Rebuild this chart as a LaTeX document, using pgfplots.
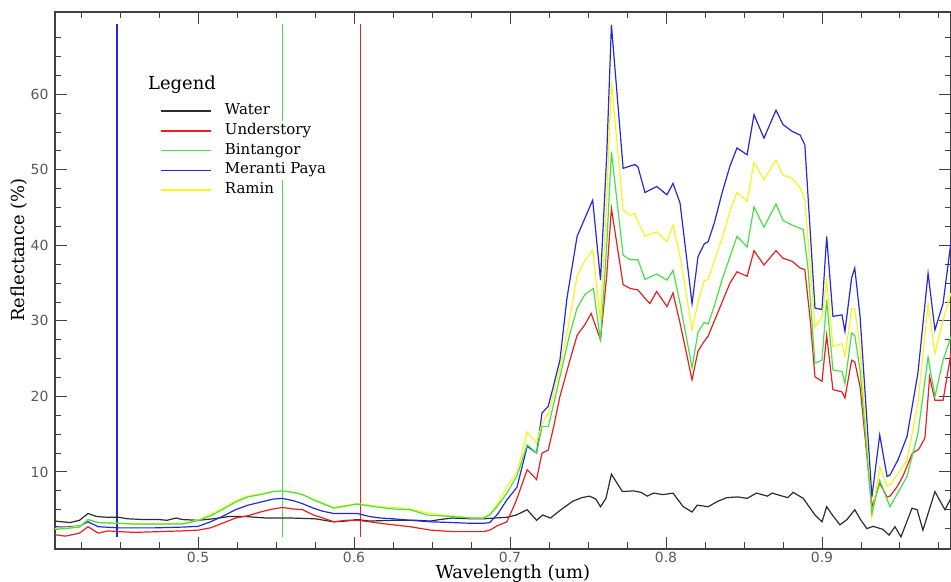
\documentclass[border=0pt]{standalone}
\usepackage{fontspec}
\setmainfont{DejaVu Serif}
\newfontfamily\tickfont{DejaVu Sans}
\usepackage{pgfplots}
\pgfplotsset{compat=1.18}
\definecolor{cwater}{RGB}{45,45,45}
\definecolor{cred}{RGB}{232,32,32}
\definecolor{cgreen}{RGB}{70,225,70}
\definecolor{cblue}{RGB}{40,40,215}
\definecolor{cyellow}{RGB}{248,244,30}
\begin{document}
\begin{tikzpicture}
\begin{axis}[
  scale only axis, width=896bp, height=537bp,
  xmin=0.4083, xmax=0.9827, ymin=-0.2, ymax=70.9,
  xtick={0.5,0.6,0.7,0.8,0.9}, xticklabels={0.5,0.6,0.7,0.8,0.9},
  minor xtick={0.425,0.45,0.475,0.525,0.55,0.575,0.625,0.65,0.675,0.725,0.75,0.775,0.825,0.85,0.875,0.925,0.95,0.975},
  ytick={10,20,30,40,50,60},
  minor ytick={2.5,5,7.5,12.5,15,17.5,22.5,25,27.5,32.5,35,37.5,42.5,45,47.5,52.5,55,57.5,62.5,65,67.5},
  tick pos=both, tick align=inside, xticklabel pos=lower, yticklabel pos=left,
  major tick length=12bp, minor tick length=6.5bp,
  axis line style={draw=black!75, line width=1.1bp},
  every tick/.style={black!75, line width=1bp},
  /pgf/number format/assume math mode=true,
  tick label style={font=\tickfont\fontsize{14}{16}\selectfont, text=black!65},
  yticklabel style={xshift=-3bp},
  xlabel={Wavelength (um)}, ylabel={Reflectance (\%)},
  label style={font=\fontsize{18}{20}\selectfont},
  xlabel style={at={(axis description cs:0.511,0)}, anchor=base, yshift=-29bp},
  ylabel style={at={(axis description cs:-0.0335,0.557)}, anchor=base},
  legend style={draw=none, fill=none, at={(axis description cs:0.117,0.834)}, anchor=north west,
    inner sep=0pt, row sep=0pt, column sep=12bp,
    nodes={fill=white, inner xsep=1.5bp, inner ysep=2.35bp, text height=11bp, text depth=4bp, font=\fontsize{15}{17}\selectfont}},
  legend cell align=left,
  legend image code/.code={\draw[#1] (0bp,0bp) -- (50bp,0bp);},
]
% band markers
\addplot[color=cblue, line width=1.4bp, forget plot] coordinates {(0.448,1.4) (0.448,69.3)};
\addplot[color=cgreen, line width=1.4bp, forget plot] coordinates {(0.554,1.4) (0.554,69.3)};
\addplot[color=cred, line width=1.4bp, forget plot] coordinates {(0.604,1.4) (0.604,69.3)};
% Water
\addplot[color=cwater, line width=1.2bp, forget plot] coordinates {
(0.408,3.5) (0.418,3.3) (0.424,3.6) (0.4295,4.5) (0.435,4.1) (0.442,4.0) (0.449,4.0) (0.455,3.8)
(0.465,3.7) (0.475,3.7) (0.48,3.6) (0.486,3.9) (0.49,3.7) (0.5,3.6) (0.51,3.8) (0.52,4.1) (0.53,4.1)
(0.544,3.9) (0.56,3.9) (0.575,3.8) (0.587,3.4) (0.595,3.5) (0.602,3.7) (0.61,3.5) (0.625,3.6)
(0.64,3.6) (0.649,3.5) (0.655,3.7) (0.663,3.9) (0.675,3.8) (0.683,3.8) (0.69,3.9) (0.698,4.0)
(0.704,4.3) (0.711,5.0) (0.717,3.6) (0.721,4.3) (0.726,3.9) (0.732,4.9) (0.74,6.1) (0.746,6.6)
(0.751,6.8) (0.755,6.4) (0.758,5.4) (0.7615,6.5) (0.765,9.7) (0.772,7.4) (0.779,7.5) (0.784,7.3)
(0.788,6.8) (0.792,7.2) (0.798,7.0) (0.8045,7.2) (0.811,5.4) (0.8167,4.7) (0.82,5.6) (0.827,5.4)
(0.833,6.1) (0.839,6.6) (0.846,6.7) (0.852,6.5) (0.858,7.2) (0.865,6.8) (0.868,7.2) (0.873,6.9)
(0.878,6.6) (0.8815,7.3) (0.888,6.5) (0.8955,4.3) (0.900,3.4) (0.903,5.4) (0.907,4.2) (0.9115,3.0)
(0.916,3.7) (0.921,5.0) (0.925,3.6) (0.9288,2.5) (0.9327,2.8) (0.936,2.6) (0.939,2.4) (0.943,1.65)
(0.9468,2.75) (0.9506,1.4) (0.9577,5.2) (0.961,5.0) (0.9647,2.3) (0.9724,7.4) (0.9788,5.0) (0.9827,6.5)};
% Understory
\addplot[color=cred, line width=1.2bp, forget plot] coordinates {
(0.408,1.7) (0.415,1.5) (0.424,1.9) (0.4295,2.75) (0.436,1.9) (0.442,2.2) (0.449,2.1) (0.46,2.0)
(0.475,2.1) (0.49,2.2) (0.5,2.3) (0.508,2.6) (0.5155,3.2) (0.524,3.9) (0.532,4.2) (0.54,4.7)
(0.548,5.1) (0.554,5.3) (0.561,5.1) (0.567,5.0) (0.574,4.3) (0.58,3.9) (0.587,3.4) (0.595,3.6)
(0.602,3.6) (0.61,3.4) (0.617,3.2) (0.625,3.0) (0.636,2.75) (0.649,2.3) (0.663,2.1) (0.675,2.1)
(0.683,2.1) (0.687,2.3) (0.692,2.9) (0.698,3.4) (0.704,6.2) (0.711,10.3) (0.717,9.0) (0.7205,12.5)
(0.7245,12.9) (0.728,16.0) (0.732,20.0) (0.738,24.5) (0.743,28.1) (0.748,29.5) (0.752,31.0)
(0.758,27.5) (0.762,36) (0.765,44.9) (0.7725,34.8) (0.777,34.3) (0.782,34.1) (0.7865,33.0)
(0.7897,32.3) (0.794,33.9) (0.8006,31.9) (0.8045,33.7) (0.809,29.7) (0.8167,22.2) (0.8205,26.0)
(0.8245,27.3) (0.827,28.0) (0.831,30.0) (0.836,32.5) (0.841,35.0) (0.8455,36.5) (0.852,35.9)
(0.8564,39.3) (0.8628,37.4) (0.8705,39.3) (0.875,38.3) (0.8808,37.9) (0.886,37.0) (0.889,36.8)
(0.8925,30) (0.8955,22.6) (0.900,22.0) (0.903,28.1) (0.907,20.9) (0.9128,20.6) (0.9147,19.8)
(0.919,24.8) (0.921,24.6) (0.9244,21.3) (0.932,5.4) (0.937,8.5) (0.9417,6.7) (0.9436,6.8)
(0.948,8.0) (0.952,9.5) (0.958,12.5) (0.962,13.0) (0.966,14.5) (0.969,22.6) (0.9724,19.5)
(0.9776,19.5) (0.9827,25.7)};
% Meranti Paya
\addplot[color=cblue, line width=1.2bp, forget plot] coordinates {
(0.408,2.75) (0.415,2.7) (0.424,2.85) (0.4295,3.4) (0.436,2.75) (0.449,2.6) (0.46,2.6) (0.4725,2.6)
(0.49,2.7) (0.5,2.8) (0.508,3.4) (0.5155,4.1) (0.524,5.0) (0.532,5.6) (0.54,6.0) (0.548,6.4)
(0.554,6.5) (0.561,6.2) (0.567,5.8) (0.574,5.2) (0.58,4.8) (0.587,4.5) (0.595,4.5) (0.602,4.5)
(0.61,4.1) (0.617,3.9) (0.625,3.8) (0.636,3.6) (0.649,3.4) (0.663,3.3) (0.675,3.2) (0.683,3.2)
(0.687,3.3) (0.692,4.4) (0.698,6.3) (0.7045,8.0) (0.711,13.4) (0.717,12.5) (0.7205,17.8)
(0.7245,18.7) (0.728,21.5) (0.732,24.8) (0.7365,33) (0.743,41.2) (0.748,43.6) (0.753,46.0)
(0.758,35.4) (0.762,52) (0.765,69.2) (0.7725,50.2) (0.777,50.5) (0.78,50.7) (0.782,50.4)
(0.7865,47.0) (0.794,47.8) (0.8006,46.7) (0.8045,48.2) (0.809,45.6) (0.8167,32.3) (0.8205,38.5)
(0.8245,40.2) (0.827,40.5) (0.831,43.0) (0.836,47.0) (0.841,50.5) (0.8455,52.9) (0.852,52.0)
(0.8564,57.3) (0.8628,54.2) (0.8705,57.9) (0.875,56.0) (0.8808,55.1) (0.886,54.6) (0.889,53.3)
(0.8955,31.7) (0.900,31.5) (0.903,41.2) (0.907,30.6) (0.9128,30.8) (0.9147,28.6) (0.919,35.7)
(0.921,37.0) (0.9244,30.6) (0.932,6.7) (0.937,14.9) (0.9417,9.4) (0.9436,9.6) (0.9487,11.6)
(0.9545,14.7) (0.9615,23.1) (0.968,36.3) (0.9724,28.8) (0.9776,32.3) (0.9827,40.5)};
% Ramin
\addplot[color=cyellow, line width=1.2bp, forget plot] coordinates {
(0.408,2.5) (0.415,2.6) (0.424,2.8) (0.4295,3.7) (0.436,3.3) (0.449,3.2) (0.46,3.1) (0.4725,3.1)
(0.49,3.2) (0.5,3.6) (0.508,4.4) (0.5155,5.2) (0.524,6.2) (0.532,6.8) (0.54,7.1) (0.548,7.4)
(0.554,7.5) (0.561,7.3) (0.567,7.0) (0.574,6.4) (0.58,5.9) (0.587,5.3) (0.595,5.6) (0.602,5.8)
(0.61,5.6) (0.617,5.4) (0.625,5.3) (0.631,5.2) (0.636,5.1) (0.647,4.6) (0.655,4.3) (0.663,4.2)
(0.675,3.9) (0.683,3.9) (0.687,4.4) (0.692,5.8) (0.698,8.1) (0.7045,10) (0.711,15.3) (0.717,13.8)
(0.7205,16.4) (0.7245,17.8) (0.728,20.5) (0.732,23.7) (0.738,30) (0.743,35.9) (0.748,38)
(0.753,39.4) (0.758,30) (0.762,46) (0.765,61.7) (0.7725,44.7) (0.777,44.0) (0.78,44.2)
(0.782,43.2) (0.7865,41.2) (0.794,41.8) (0.8006,40.5) (0.8045,42.7) (0.809,38.5) (0.8167,28.8)
(0.8205,32.5) (0.8245,35.3) (0.827,35.5) (0.831,38.0) (0.836,41.0) (0.841,44.5) (0.8455,47.0)
(0.852,45.8) (0.8564,51.0) (0.8628,48.7) (0.8705,51.3) (0.875,49.3) (0.8808,48.9) (0.886,47.6)
(0.889,46.0) (0.8955,29.2) (0.900,30.5) (0.903,35.4) (0.907,26.6) (0.9128,27.0) (0.9147,25.3)
(0.919,31.7) (0.921,31.5) (0.9244,26.6) (0.932,4.1) (0.937,10.7) (0.9417,8.1) (0.9436,8.3)
(0.9545,11.5) (0.9615,19.1) (0.968,32.3) (0.9724,25.7) (0.9776,30.1) (0.9827,33.7)};
% Bintangor
\addplot[color=cgreen, line width=1.2bp, forget plot] coordinates {
(0.408,2.4) (0.415,2.5) (0.424,2.7) (0.4295,3.7) (0.436,3.3) (0.449,3.2) (0.46,3.1) (0.4725,3.1)
(0.49,3.1) (0.5,3.55) (0.508,4.2) (0.5155,5.0) (0.524,6.0) (0.532,6.7) (0.54,7.0) (0.548,7.4)
(0.554,7.5) (0.561,7.3) (0.567,7.0) (0.574,6.3) (0.58,5.8) (0.587,5.2) (0.595,5.5) (0.602,5.75)
(0.61,5.5) (0.617,5.3) (0.625,5.1) (0.636,5.0) (0.647,4.3) (0.655,4.2) (0.663,4.1) (0.675,3.9)
(0.683,3.9) (0.687,4.3) (0.692,5.5) (0.698,7.2) (0.7045,9.5) (0.711,13.6) (0.717,12.5)
(0.7205,16.0) (0.7245,16.0) (0.728,19) (0.732,22.6) (0.738,28) (0.743,31.7) (0.748,33.5)
(0.7535,34.3) (0.758,27.3) (0.762,40) (0.765,52.4) (0.7725,38.7) (0.777,38.1) (0.782,38.1)
(0.7865,35.5) (0.794,36.2) (0.8006,35.4) (0.8045,36.7) (0.809,32.3) (0.8167,23.8) (0.8205,28.5)
(0.8245,29.8) (0.827,29.6) (0.831,32.0) (0.836,35.5) (0.841,38.5) (0.8455,41.2) (0.852,39.8)
(0.8564,45.1) (0.8628,42.4) (0.8705,45.5) (0.875,43.3) (0.8808,42.7) (0.888,42.1) (0.891,37.0)
(0.8955,24.4) (0.900,24.8) (0.903,32.8) (0.907,23.5) (0.9128,23.3) (0.9147,21.7) (0.919,28.4)
(0.921,28.1) (0.9244,23.5) (0.932,4.5) (0.937,8.9) (0.9436,5.4) (0.9545,9.4) (0.9615,15.1)
(0.968,25.2) (0.9724,20.0) (0.9776,24.8) (0.9827,27.9)};
\addlegendimage{color=cwater, line width=1.4bp}
\addlegendentry{Water}
\addlegendimage{color=cred, line width=1.4bp}
\addlegendentry{Understory}
\addlegendimage{color=cgreen, line width=1.4bp}
\addlegendentry{Bintangor}
\addlegendimage{color=cblue, line width=1.4bp}
\addlegendentry{Meranti Paya}
\addlegendimage{color=cyellow, line width=1.4bp}
\addlegendentry{Ramin}
\node[anchor=base west, inner sep=0pt, font=\fontsize{18}{20}\selectfont] at (axis description cs:0.1038,0.856) {Legend};
\coordinate (SW) at (axis description cs:0,0);
\coordinate (NE) at (axis description cs:1,1);
\end{axis}
\pgfresetboundingbox
\path[use as bounding box] ([shift={(-55bp,-33bp)}]SW) rectangle ([shift={(0bp,12bp)}]NE);
\end{tikzpicture}
\end{document}
